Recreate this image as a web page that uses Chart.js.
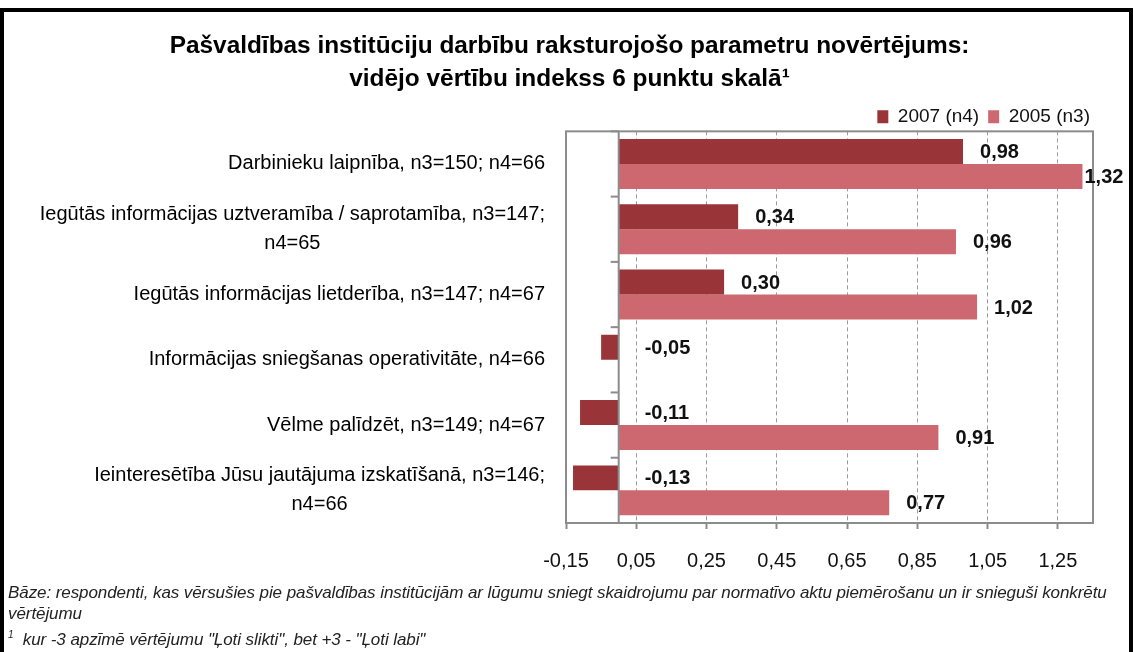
<!DOCTYPE html>
<html>
<head>
<meta charset="utf-8">
<script src="https://cdn.jsdelivr.net/npm/chart.js@4"></script>
<style>
  html, body { margin: 0; padding: 0; background: #fff; }
  body { width: 1133px; height: 652px; position: relative; overflow: hidden; }
  #wrap { position: absolute; left: 0; top: 0; width: 1133px; height: 580px; }
  #frame {
    position: absolute; left: 0; top: 8px; width: 1133px; height: 660px;
    box-sizing: border-box; border: 4px solid #000; border-bottom: none;
    pointer-events: none;
  }
  #note {
    position: absolute; left: 8px; top: 582px; width: 1120px;
    font-family: 'Liberation Sans', Arial, sans-serif;
    font-style: italic; font-size: 17px; line-height: 21px; color: #222;
    letter-spacing: -0.08px;
  }
  #note sup { font-size: 10px; }
</style>
</head>
<body>
<div id="wrap"><canvas id="chart"></canvas></div>
<div id="frame"></div>
<div id="note">
  Bāze: respondenti, kas vērsušies pie pašvaldības institūcijām ar lūgumu sniegt skaidrojumu par normatīvo aktu piemērošanu un ir snieguši konkrētu<br>
  vērtējumu<br>
  <sup>1</sup>&nbsp; kur -3 apzīmē vērtējumu "Ļoti slikti", bet +3 - "Ļoti labi"
</div>
<script>
// ===============================
// Data
// ===============================
const categories = [
  ["Darbinieku laipnība, n3=150; n4=66"],
  ["Iegūtās informācijas uztveramība / saprotamība, n3=147;", "n4=65"],
  ["Iegūtās informācijas lietderība, n3=147; n4=67"],
  ["Informācijas sniegšanas operativitāte, n4=66"],
  ["Vēlme palīdzēt, n3=149; n4=67"],
  ["Ieinteresētība Jūsu jautājuma izskatīšanā, n3=146;", "n4=66"]
];
const values2007 = [0.98, 0.34, 0.30, -0.05, -0.11, -0.13];
const values2005 = [1.32, 0.96, 1.02, null, 0.91, 0.77];
const tickValues = [-0.15, 0.05, 0.25, 0.45, 0.65, 0.85, 1.05, 1.25];
const axisMin = -0.15;
const axisMax = 1.35;

const FONT = "'Liberation Sans', Arial, sans-serif";
const fmt = v => v.toFixed(2).replace(".", ",");

// ===============================
// Plugins
// ===============================
// nudge title to page centre and legend a bit right/down, like the original
const nudgePlugin = {
  id: "nudge",
  afterLayout(chart) {
    const t = chart.titleBlock;
    if (t) { t.left += 23; t.right += 23; }
    const lg = chart.legend;
    if (lg) { lg.left += 6; lg.right += 6; lg.top += 5; lg.bottom += 5; }
  }
};

const framePlugin = {
  id: "frame",
  afterDatasetsDraw(chart) {
    const { ctx, chartArea: a, scales: { x, y } } = chart;
    const x0 = x.getPixelForValue(0);
    ctx.save();
    ctx.strokeStyle = "#8c8c8c";
    ctx.lineWidth = 2;
    ctx.setLineDash([]);
    ctx.strokeRect(a.left, a.top, a.right - a.left, a.bottom - a.top);
    // zero axis
    ctx.beginPath();
    ctx.moveTo(x0, a.top);
    ctx.lineTo(x0, a.bottom);
    ctx.stroke();
    // category boundary ticks on the zero axis
    for (let i = 0; i <= categories.length; i++) {
      let py;
      if (i === 0) py = a.top;
      else if (i === categories.length) py = a.bottom;
      else py = (y.getPixelForValue(i - 1) + y.getPixelForValue(i)) / 2;
      ctx.beginPath();
      ctx.moveTo(x0 - 8, py);
      ctx.lineTo(x0, py);
      ctx.stroke();
    }
    ctx.restore();
  }
};

const catLabelPlugin = {
  id: "catLabels",
  afterDraw(chart) {
    const { ctx, scales: { y }, chartArea: a } = chart;
    const right = a.left - 21;
    const lh = 29;
    ctx.save();
    ctx.font = "20px " + FONT;
    ctx.fillStyle = "#000";
    ctx.textAlign = "center";
    ctx.textBaseline = "middle";
    categories.forEach((lines, i) => {
      const w = Math.max(...lines.map(l => ctx.measureText(l).width));
      const cx = right - w / 2;
      const cy = y.getPixelForValue(i);
      const start = cy - (lines.length - 1) * lh / 2;
      lines.forEach((l, j) => ctx.fillText(l, cx, start + j * lh));
    });
    ctx.restore();
  }
};

const valueLabelPlugin = {
  id: "valueLabels",
  afterDatasetsDraw(chart) {
    const { ctx, scales: { x } } = chart;
    const x0 = x.getPixelForValue(0);
    ctx.save();
    ctx.font = "bold 20px " + FONT;
    ctx.fillStyle = "#111";
    ctx.textAlign = "left";
    ctx.textBaseline = "middle";
    chart.data.datasets.forEach((ds, di) => {
      const meta = chart.getDatasetMeta(di);
      meta.data.forEach((bar, i) => {
        const v = ds.data[i];
        if (v === null || v === undefined) return;
        const txt = fmt(v);
        const w = ctx.measureText(txt).width;
        let px = v >= 0 ? bar.x + 17 : x0 + 26;
        if (px + w > chart.width - 10) px = bar.x + 2;
        ctx.fillText(txt, px, bar.y + 1);
      });
    });
    ctx.restore();
  }
};

// ===============================
// Chart
// ===============================
new Chart(document.getElementById("chart"), {
  type: "bar",
  data: {
    labels: categories,
    datasets: [
      {
        label: "2007 (n4)",
        data: values2007,
        backgroundColor: "#993439",
        borderWidth: 0,
        categoryPercentage: 0.765,
        barPercentage: 1.0
      },
      {
        label: "2005 (n3)",
        data: values2005,
        backgroundColor: "#cd6871",
        borderWidth: 0,
        categoryPercentage: 0.765,
        barPercentage: 1.0
      }
    ]
  },
  options: {
    indexAxis: "y",
    responsive: true,
    maintainAspectRatio: false,
    animation: false,
    layout: { padding: { left: 0, right: 40, top: 0, bottom: 0 } },
    plugins: {
      tooltip: { enabled: false },
      title: {
        display: true,
        text: [
          "Pašvaldības institūciju darbību raksturojošo parametru novērtējums:",
          "vidējo vērtību indekss 6 punktu skalā¹"
        ],
        color: "#000",
        font: { family: FONT, size: 24.4, weight: "bold", lineHeight: 1.38 },
        padding: { top: 29, bottom: -3 }
      },
      legend: {
        position: "top",
        align: "end",
        labels: {
          boxWidth: 11,
          boxHeight: 13,
          padding: 9,
          color: "#111",
          font: { family: FONT, size: 19 }
        }
      }
    },
    scales: {
      x: {
        type: "linear",
        min: axisMin,
        max: axisMax,
        afterBuildTicks: scale => {
          scale.ticks = tickValues.map(v => ({ value: v }));
        },
        afterFit: scale => { scale.height = 57; },
        border: { display: true, color: "#8c8c8c", width: 2, dash: [4, 3] },
        grid: {
          color: "#9a9a9a",
          lineWidth: 1,
          drawTicks: true,
          tickLength: 6,
          tickColor: "#8c8c8c",
          tickWidth: 2,
          tickBorderDash: []
        },
        ticks: {
          padding: 20,
          color: "#111",
          font: { family: FONT, size: 20 },
          callback: v => fmt(v),
          maxRotation: 0
        }
      },
      y: {
        afterFit: scale => { scale.width = 566; },
        border: { display: false },
        grid: { display: false, drawTicks: false },
        ticks: { display: false }
      }
    }
  },
  plugins: [nudgePlugin, framePlugin, catLabelPlugin, valueLabelPlugin]
});
</script>
</body>
</html>
